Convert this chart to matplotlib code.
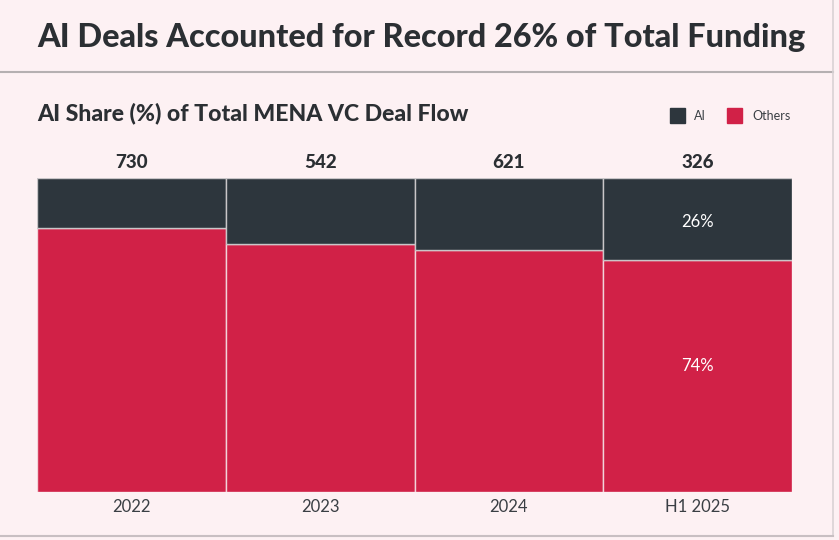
import matplotlib
matplotlib.use('Agg')
import matplotlib.pyplot as plt
from matplotlib.lines import Line2D
from matplotlib.patches import Rectangle

# data
periods = ['2022', '2023', '2024', 'H1 2025']
total_deals = [730, 542, 621, 326]
ai_share = [16, 21, 23, 26]
others_share = [100 - v for v in ai_share]

dark = '#2d363d'
red = '#d12147'
bg = '#fdf1f3'
text_col = '#2b2f33'

plt.rcParams['font.family'] = ['Lato', 'DejaVu Sans']

W, H = 839, 540
fig = plt.figure(figsize=(W / 100, H / 100), dpi=100, facecolor=bg)

def fx(px):
    return px / W

def fy(py):
    return 1 - py / H

# frame lines
fig.add_artist(Line2D([0, fx(833)], [fy(72), fy(72)], color='#b5b0b1', lw=1.5))
fig.add_artist(Line2D([fx(833), fx(833)], [fy(0), fy(536)], color='#d9d2d4', lw=1.2))
fig.add_artist(Line2D([0, fx(833)], [fy(536), fy(536)], color='#c8bfc2', lw=1.5))

fig.text(fx(37), fy(38), 'AI Deals Accounted for Record 26% of Total Funding',
         fontsize=23.3, fontweight=900, color=text_col, va='center', ha='left')
fig.text(fx(37), fy(113), 'AI Share (%) of Total MENA VC Deal Flow',
         fontsize=16.6, fontweight=900, color=text_col, va='center', ha='left')

# legend
for sx, tx, col, lab in [(670, 694, dark, 'AI'), (727, 752, red, 'Others')]:
    fig.add_artist(Rectangle((fx(sx), fy(123)), fx(15), 15 / H, color=col,
                             transform=fig.transFigure))
    fig.text(fx(tx), fy(115.5), lab, fontsize=9, color='#3a3f44', va='center', ha='left')

ax = fig.add_axes([fx(37), fy(492), fx(792) - fx(37), fy(178) - fy(492)])
ax.set_facecolor(bg)
x = list(range(len(periods)))
ax.bar(x, others_share, width=1.0, color=red, edgecolor='#f2d3d9', linewidth=1)
ax.bar(x, ai_share, bottom=others_share, width=1.0, color=dark, edgecolor='#c9c6c8', linewidth=1)
ax.set_xlim(-0.5, len(periods) - 0.5)
ax.set_ylim(0, 100)

for i, n in enumerate(total_deals):
    ax.text(i, 105, str(n), ha='center', va='center', fontsize=13.5,
            fontweight=900, color=text_col, clip_on=False)

last = len(periods) - 1
ax.text(last, 86, f'{ai_share[last]}%',
        ha='center', va='center', color='white', fontsize=12)
ax.text(last, 40, f'{others_share[last]}%',
        ha='center', va='center', color='white', fontsize=12)

ax.set_xticks(x)
ax.set_xticklabels(periods, fontsize=12, color='#3a3f44')
ax.tick_params(axis='x', length=0, pad=5)
ax.set_yticks([])
for s in ax.spines.values():
    s.set_visible(False)

fig.savefig('out.png', dpi=100, facecolor=bg)
